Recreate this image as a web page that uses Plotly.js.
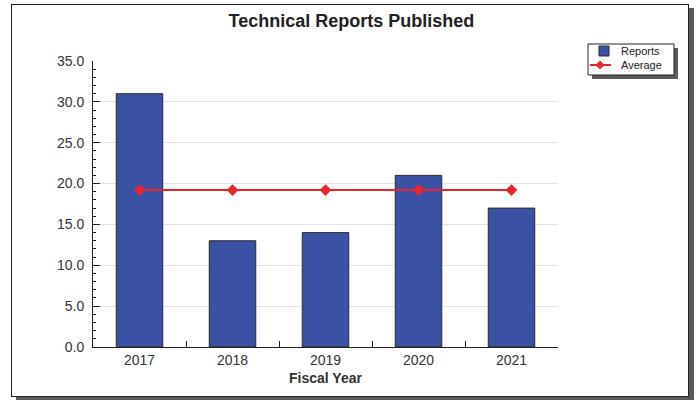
<!DOCTYPE html>
<html>
<head>
<meta charset="utf-8">
<script src="https://cdn.plot.ly/plotly-3.0.1.min.js"></script>
<style>
  html, body { margin: 0; padding: 0; background: #fff; }
  #frame { position: absolute; left: 11px; top: 4px; width: 676px; height: 391px;
           border: 1px solid #222; background: #fff; box-shadow: 5px 4px 0 #5a5a5a; }
  #chart { position: absolute; left: 0; top: 0; width: 696px; height: 400px; }
</style>
</head>
<body>
<div id="frame"></div>
<div id="chart"></div>
<script>
const years = ["2017", "2018", "2019", "2020", "2021"];
const reports = [31, 13, 14, 21, 17];
const average = [19.2, 19.2, 19.2, 19.2, 19.2];

const BAR_COLOR = "#3A52A3";
const LINE_COLOR = "#E8262B";

// plot area in pixels: x 93..558, y 61..347
const PL = 93, PR = 558, PT = 61, PB = 347;
const px = v => (v - PL) / (PR - PL);
const py = v => (PB - v) / (PB - PT);

const traces = [
  {
    type: "bar", name: "Reports", x: years, y: reports, width: 0.5,
    marker: { color: BAR_COLOR, line: { color: "#2a2a2a", width: 1 } },
    hoverinfo: "x+y"
  },
  {
    type: "scatter", mode: "lines+markers", name: "Average", x: years, y: average,
    line: { color: LINE_COLOR, width: 2 },
    marker: { symbol: "diamond", size: 9, color: LINE_COLOR }
  }
];

// custom legend (box with shadow)
const lgShapes = [
  { type: "rect", xref: "paper", yref: "paper", x0: px(592), x1: px(678), y0: py(48), y1: py(79),
    fillcolor: "#5a5a5a", line: { width: 0 }, layer: "above" },
  { type: "rect", xref: "paper", yref: "paper", x0: px(588), x1: px(674), y0: py(44), y1: py(75),
    fillcolor: "#ffffff", line: { color: "#222", width: 1 }, layer: "above" },
  { type: "rect", xref: "paper", yref: "paper", x0: px(599), x1: px(609), y0: py(46), y1: py(56),
    fillcolor: BAR_COLOR, line: { color: "#2a2a2a", width: 1 }, layer: "above" },
  { type: "line", xref: "paper", yref: "paper", x0: px(590), x1: px(611), y0: py(65), y1: py(65),
    line: { color: LINE_COLOR, width: 2 }, layer: "above" },
  { type: "path", xref: "paper", yref: "paper",
    path: `M ${px(600)} ${py(60.5)} L ${px(604.5)} ${py(65)} L ${px(600)} ${py(69.5)} L ${px(595.5)} ${py(65)} Z`,
    fillcolor: LINE_COLOR, line: { color: LINE_COLOR, width: 0 }, layer: "above" }
];
const lgAnn = [
  { text: "Reports", x: px(619), y: py(51), xref: "paper", yref: "paper", xanchor: "left", yanchor: "middle",
    showarrow: false, font: { size: 11, color: "#222" } },
  { text: "Average", x: px(619), y: py(65), xref: "paper", yref: "paper", xanchor: "left", yanchor: "middle",
    showarrow: false, font: { size: 11, color: "#222" } }
];

const layout = {
  width: 696, height: 400,
  margin: { l: PL, r: 696 - PR, t: PT, b: 400 - PB },
  paper_bgcolor: "rgba(0,0,0,0)",
  plot_bgcolor: "#fff",
  font: { family: "Liberation Sans, Arial, sans-serif", color: "#333" },
  title: { text: "<b>Technical Reports Published</b>", x: 0.505, xref: "container", xanchor: "center",
           y: 1 - 21 / 400, yref: "container", yanchor: "middle", font: { size: 18, color: "#222" } },
  xaxis: {
    type: "category", range: [-0.5, 4.5],
    showline: true, linecolor: "#222", linewidth: 1,
    ticks: "inside", tickson: "boundaries", ticklen: 6, tickcolor: "#222",
    tickfont: { size: 14, color: "#333" },
    showgrid: false,
    title: { text: "<b>Fiscal Year</b>", font: { size: 14, color: "#333" }, standoff: 6 }
  },
  yaxis: {
    range: [0, 35], dtick: 5, tick0: 0, tickformat: ".1f",
    showline: true, linecolor: "#222", linewidth: 1,
    ticks: "inside", ticklen: 7, tickcolor: "#222",
    ticklabelstandoff: 5,
    tickfont: { size: 14, color: "#333" },
    showgrid: true, gridcolor: "#e2e2e2", gridwidth: 1,
    zeroline: false,
    minor: { dtick: 1, ticks: "inside", ticklen: 3, tickcolor: "#222", showgrid: false }
  },
  showlegend: false,
  shapes: lgShapes,
  annotations: lgAnn
};

Plotly.newPlot("chart", traces, layout, { displayModeBar: false, staticPlot: true });
</script>
</body>
</html>
